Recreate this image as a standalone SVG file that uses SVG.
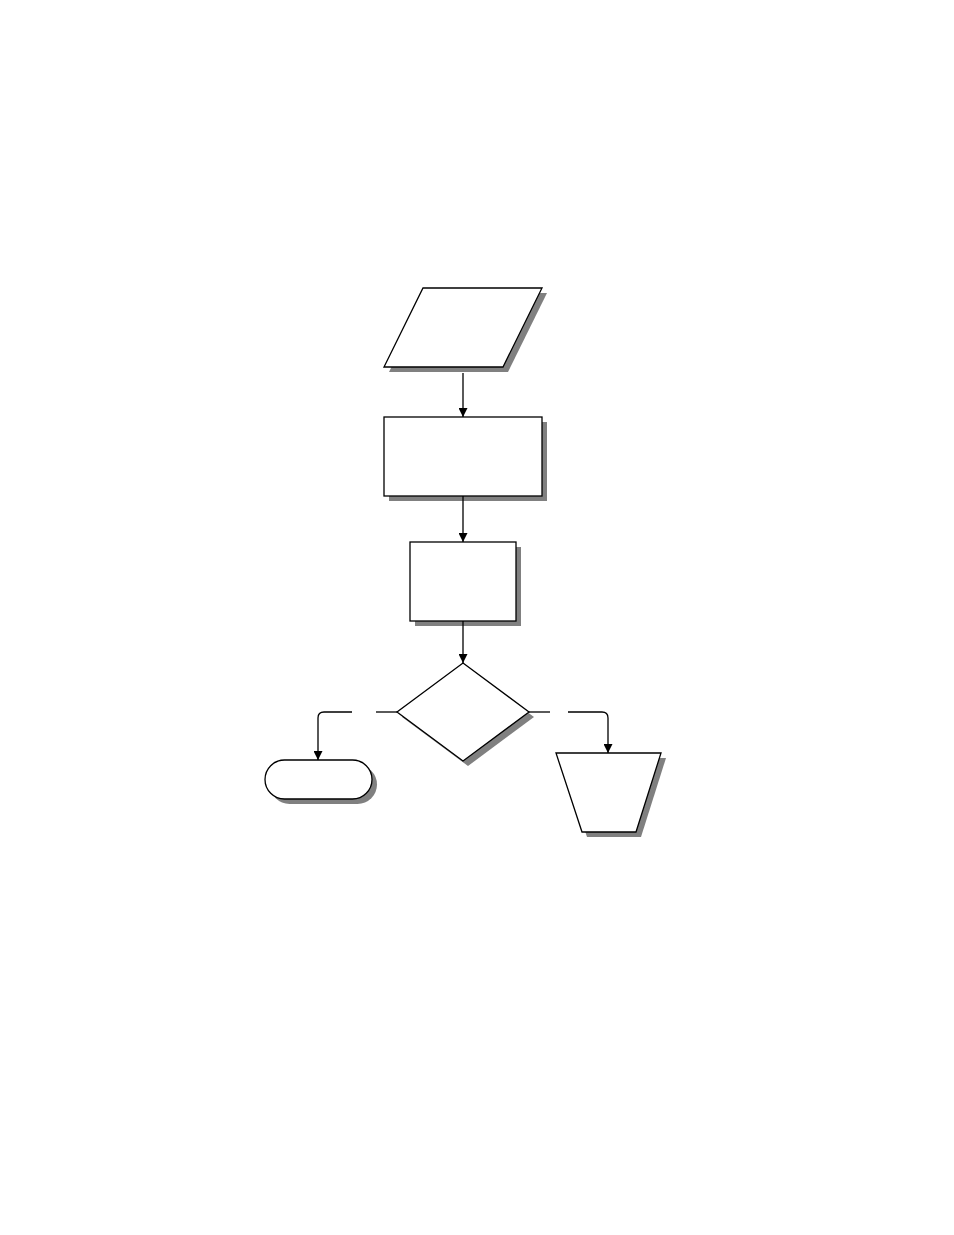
<svg xmlns="http://www.w3.org/2000/svg" width="954" height="1235" viewBox="0 0 954 1235">
<style>
.sh{fill:#808080;stroke:none}
.nd{fill:#fff;stroke:#000;stroke-width:1.3}
.cn{fill:none;stroke:#000;stroke-width:1.3}
</style>
<defs>
<marker id="ah" viewBox="0 0 10 10" refX="10" refY="5" markerWidth="10" markerHeight="9" markerUnits="userSpaceOnUse" orient="auto">
<path d="M0,0 L10,5 L0,10 Z" fill="#000"/>
</marker>
</defs>
<rect width="954" height="1235" fill="#fff"/>
<g id="data1">
<polygon class="sh" points="428,293 547,293 508,372 389,372"/>
<polygon class="nd" points="423,288 542,288 503,367 384,367"/>
</g>
<g id="process1">
<rect class="sh" x="389" y="422" width="158" height="79"/>
<rect class="nd" x="384" y="417" width="158" height="79"/>
</g>
<g id="process2">
<rect class="sh" x="415" y="547" width="106" height="79"/>
<rect class="nd" x="410" y="542" width="106" height="79"/>
</g>
<g id="decision">
<polygon class="sh" points="468,668 534,717 468,766 402,717"/>
<polygon class="nd" points="463,663 529,712 463,761 397,712"/>
</g>
<g id="terminal">
<rect class="sh" x="270" y="765" width="107" height="39" rx="19.5" ry="19.5"/>
<rect class="nd" x="265" y="760" width="107" height="39" rx="19.5" ry="19.5"/>
</g>
<g id="manualop">
<polygon class="sh" points="561,758 666,758 641,837 587,837"/>
<polygon class="nd" points="556,753 661,753 636,832 582,832"/>
</g>
<g id="connectors">
<line class="cn" x1="463" y1="373" x2="463" y2="417" marker-end="url(#ah)"/>
<line class="cn" x1="463" y1="496" x2="463" y2="542" marker-end="url(#ah)"/>
<line class="cn" x1="463" y1="621" x2="463" y2="663" marker-end="url(#ah)"/>
<line class="cn" x1="397" y1="712" x2="376" y2="712"/>
<path class="cn" d="M352,712 H324 Q318,712 318,718 V760" marker-end="url(#ah)"/>
<line class="cn" x1="529" y1="712" x2="550" y2="712"/>
<path class="cn" d="M568,712 H602 Q608,712 608,718 V753" marker-end="url(#ah)"/>
</g>
</svg>
